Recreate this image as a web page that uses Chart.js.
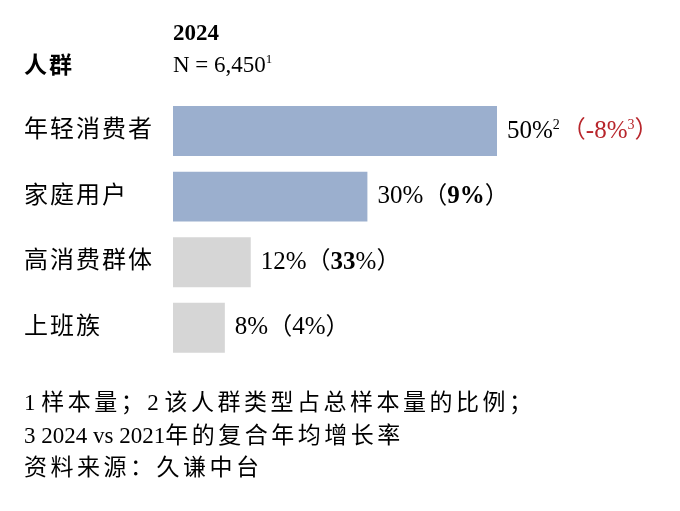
<!DOCTYPE html>
<html>
<head>
<meta charset="utf-8">
<script src="https://cdn.jsdelivr.net/npm/chart.js@4.4.1/dist/chart.umd.min.js"></script>
<style>
  html, body { margin: 0; padding: 0; background: #fff; }
  #wrap { width: 680px; height: 511px; }
</style>
</head>
<body>
<div id="wrap"><canvas id="chart"></canvas></div>
<script>
  // data
  const categories = ["年轻消费者", "家庭用户", "高消费群体", "上班族"];
  const shares = [50, 30, 12, 8];
  const growth = [-8, 9, 33, 4];
  const year = "2024";
  const sampleSize = "6,450";
  const notes = [
    "1 样本量；2 该人群类型占总样本量的比例；",
    "3 2024 vs 2021年的复合年均增长率",
    "资料来源：久谦中台"
  ];

  // styles
  const barColors = ["#9BAFCE", "#9BAFCE", "#D6D6D6", "#D6D6D6"];
  const boldNum = [false, true, true, false];
  const boldPct = [false, true, false, false];
  const FONT = '"Liberation Serif", "Noto Sans CJK SC", serif';
  const RED = "#B8262C";

  // draw a row of text pieces one after another
  function drawPieces(ctx, x, y, pieces) {
    pieces.forEach(function (p) {
      ctx.font = (p.bold ? "bold " : "") + p.size + "px " + FONT;
      ctx.fillStyle = p.color || "#000";
      ctx.letterSpacing = (p.ls || 0) + "px";
      var yy = p.sup ? y - 6 : y;
      ctx.fillText(p.t, x, yy);
      x += ctx.measureText(p.t).width + (p.gap || 0);
    });
    ctx.letterSpacing = "0px";
  }

  // split a line so only the CJK runs get extra spacing
  function cjkPieces(text, size, ls) {
    var out = [];
    text.split(/([\u3000-\u9fff\uff00-\uffef]+)/).forEach(function (s) {
      if (!s) return;
      var cjk = /[\u3000-\u9fff\uff00-\uffef]/.test(s);
      out.push({ t: s, size: size, ls: cjk ? ls : 0 });
    });
    return out;
  }

  var textPlugin = {
    id: "texts",
    beforeDraw: function (chart) {
      // a bit of spacing for the category names on the y axis
      chart.ctx.letterSpacing = "2px";
    },
    afterDraw: function (chart) {
      var ctx = chart.ctx;
      var xs = chart.scales.x;
      var ys = chart.scales.y;
      ctx.letterSpacing = "0px";
      ctx.save();
      ctx.textBaseline = "middle";
      ctx.textAlign = "left";

      // header
      drawPieces(ctx, 173, 34, [{ t: year, size: 23, bold: true }]);
      drawPieces(ctx, 24, 67, [{ t: "人群", size: 23, bold: true, ls: 2 }]);
      drawPieces(ctx, 173, 66, [
        { t: "N = " + sampleSize, size: 23 },
        { t: "1", size: 13, sup: true }
      ]);

      // value labels
      shares.forEach(function (v, i) {
        var x = xs.getPixelForValue(v) + 10;
        var y = ys.getPixelForValue(i);
        var c = growth[i] < 0 ? RED : "#000";
        var pieces = [{ t: v + "%", size: 25 }];
        if (i === 0) pieces.push({ t: "2", size: 14, sup: true, gap: 2 });
        pieces.push({ t: "（", size: 24, color: c });
        pieces.push({ t: String(growth[i]), size: 25, color: c, bold: boldNum[i] });
        pieces.push({ t: "%", size: 25, color: c, bold: boldPct[i] });
        if (i === 0) pieces.push({ t: "3", size: 14, sup: true, color: c });
        pieces.push({ t: "）", size: 24, color: c });
        drawPieces(ctx, x, y, pieces);
      });

      // footnotes
      notes.forEach(function (n, i) {
        drawPieces(ctx, 24, 404 + i * 32.5, cjkPieces(n, 23, 3.5));
      });
      ctx.restore();
    }
  };

  new Chart(document.getElementById("chart"), {
    type: "bar",
    data: {
      labels: categories,
      datasets: [
        {
          data: shares,
          backgroundColor: barColors,
          borderWidth: 0,
          barPercentage: 0.76,
          categoryPercentage: 1
        }
      ]
    },
    options: {
      indexAxis: "y",
      responsive: true,
      maintainAspectRatio: false,
      animation: false,
      layout: { padding: { left: 24, right: 53.4, top: 98.2, bottom: 150.4 } },
      plugins: {
        legend: { display: false },
        tooltip: { enabled: false }
      },
      scales: {
        x: { display: false, min: 0, max: 70 },
        y: {
          afterFit: function (scale) { scale.width = 149; },
          grid: { display: false },
          border: { display: false },
          ticks: {
            crossAlign: "far",
            color: "#000",
            padding: 0,
            font: { family: FONT, size: 24 }
          }
        }
      }
    },
    plugins: [textPlugin]
  });
</script>
</body>
</html>
